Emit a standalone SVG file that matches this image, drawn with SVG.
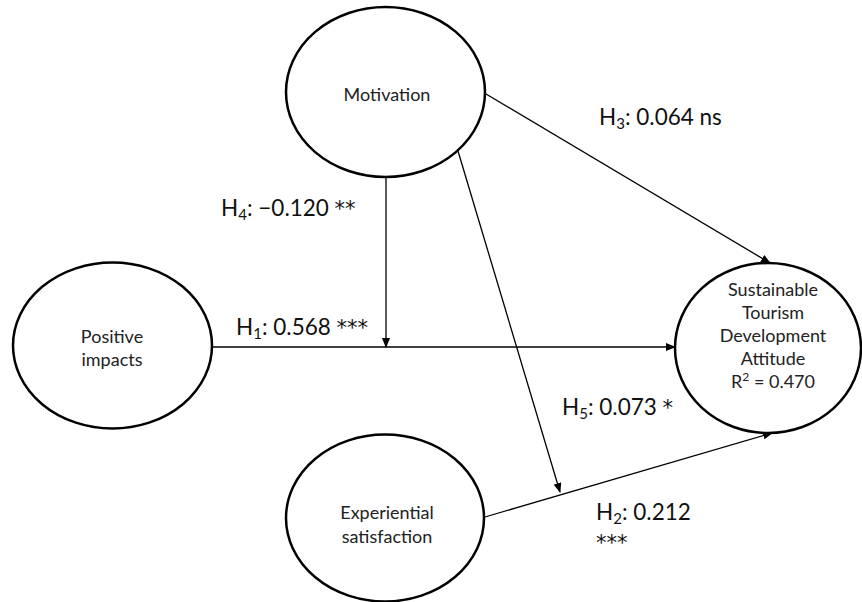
<svg xmlns="http://www.w3.org/2000/svg" width="862" height="602" viewBox="0 0 862 602">
<style>
.node{fill:#fff;stroke:#000;stroke-width:2.5}
.nt{font-family:Lato,"Liberation Sans",sans-serif;font-size:18px;fill:#222;text-anchor:middle}
.lbl{font-family:Lato,"Liberation Sans",sans-serif;font-size:22.5px;fill:#111}
.sub{font-size:15px}
.ast{font-family:"DejaVu Sans",sans-serif;font-size:21px}
.conn line{stroke:#000;stroke-width:1.3;fill:none;marker-end:url(#ah)}
</style>
<defs>
<marker id="ah" markerUnits="userSpaceOnUse" markerWidth="10" markerHeight="8" refX="9" refY="4" orient="auto">
<path d="M0,0 L10,4 L0,8 z" fill="#000"/>
</marker>
</defs>
<rect width="862" height="602" fill="#fff"/>
<g id="connectors" class="conn">
<line x1="212" y1="347" x2="675" y2="347"/>
<line x1="386" y1="177" x2="386" y2="347"/>
<line x1="486" y1="94" x2="770" y2="263"/>
<line x1="458" y1="151" x2="560" y2="492"/>
<line x1="485" y1="517" x2="772" y2="433"/>
</g>
<g id="motivation">
<ellipse class="node" cx="385.5" cy="92" rx="99.5" ry="85"/>
<text class="nt" x="387" y="101">Motivation</text>
</g>
<g id="positive-impacts">
<ellipse class="node" cx="112.5" cy="345.5" rx="99.5" ry="83"/>
<text class="nt" x="112" y="343">Positive</text>
<text class="nt" x="112" y="366">impacts</text>
</g>
<g id="experiential-satisfaction">
<ellipse class="node" cx="385" cy="518" rx="99" ry="83.5"/>
<text class="nt" x="387" y="519">Experiential</text>
<text class="nt" x="387" y="543">satisfaction</text>
</g>
<g id="stda">
<ellipse class="node" cx="768" cy="348" rx="93" ry="85"/>
<text class="nt" x="773" y="296">Sustainable</text>
<text class="nt" x="773" y="319">Tourism</text>
<text class="nt" x="773" y="342">Development</text>
<text class="nt" x="773" y="365">Attitude</text>
<text class="nt" x="773" y="388">R<tspan font-size="12" dy="-7">2</tspan><tspan dy="7"> = 0.470</tspan></text>
</g>
<g id="labels">
<text class="lbl" x="599" y="125">H<tspan class="sub" dy="4">3</tspan><tspan dy="-4">: 0.064 ns</tspan></text>
<text class="lbl" x="221" y="216">H<tspan class="sub" dy="4">4</tspan><tspan dy="-4">: −0.120 </tspan><tspan class="ast">**</tspan></text>
<text class="lbl" x="236" y="335">H<tspan class="sub" dy="4">1</tspan><tspan dy="-4">: 0.568 </tspan><tspan class="ast">***</tspan></text>
<text class="lbl" x="562" y="415">H<tspan class="sub" dy="4">5</tspan><tspan dy="-4">: 0.073 </tspan><tspan class="ast">*</tspan></text>
<text class="lbl" x="596" y="520">H<tspan class="sub" dy="4">2</tspan><tspan dy="-4">: 0.212</tspan></text>
<text class="lbl ast" x="596" y="550">***</text>
</g>
</svg>
